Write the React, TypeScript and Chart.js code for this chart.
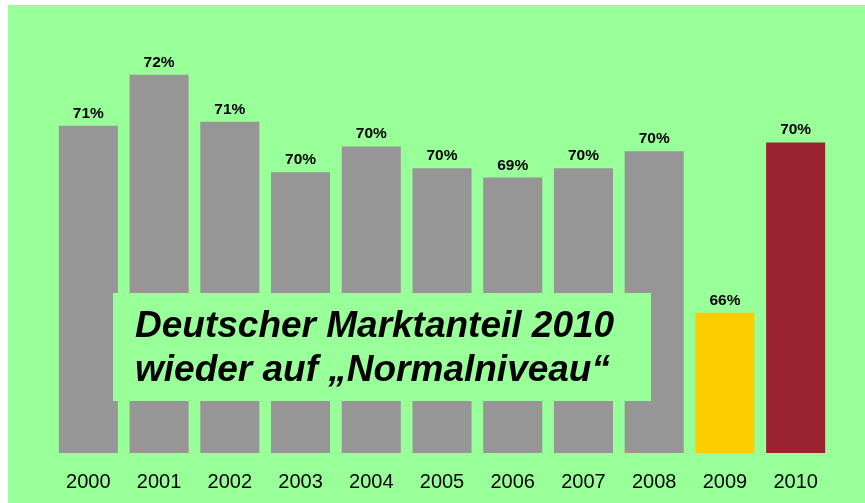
import React, { useEffect, useRef } from "react";
import { Chart, registerables } from "chart.js";

Chart.register(...registerables);

const years = ["2000", "2001", "2002", "2003", "2004", "2005", "2006", "2007", "2008", "2009", "2010"];
const shares = [70.72, 72.0, 70.82, 69.55, 70.2, 69.65, 69.42, 69.65, 70.08, 66.02, 70.3];
const barColors = [
  "#969696", "#969696", "#969696", "#969696", "#969696", "#969696",
  "#969696", "#969696", "#969696", "#FFCC00", "#9B2230",
];
const headlineLines = ["Deutscher Marktanteil 2010", "wieder auf \u201eNormalniveau\u201c"];

const BG = "#99FF99";

const valueLabels = {
  id: "valueLabels",
  afterDatasetsDraw(chart: any) {
    const ctx = chart.ctx;
    const meta = chart.getDatasetMeta(0);
    ctx.save();
    ctx.font = "bold 15.5px 'Liberation Sans', Arial, sans-serif";
    ctx.fillStyle = "#000";
    ctx.textAlign = "center";
    ctx.textBaseline = "alphabetic";
    meta.data.forEach((bar: any, i: number) => {
      ctx.fillText(Math.round(shares[i]) + "%", bar.x, bar.y - 8);
    });
    ctx.restore();
  },
};

const headline = {
  id: "headline",
  afterDraw(chart: any) {
    const ctx = chart.ctx;
    ctx.save();
    ctx.fillStyle = BG;
    ctx.fillRect(105, 288, 538, 108);
    ctx.fillStyle = "#000";
    ctx.font = "italic bold 37px 'Liberation Sans', Arial, sans-serif";
    ctx.textAlign = "left";
    ctx.textBaseline = "alphabetic";
    ctx.fillText(headlineLines[0], 127, 332);
    ctx.fillText(headlineLines[1], 127, 376);
    ctx.restore();
  },
};

export default function App() {
  const ref = useRef<HTMLCanvasElement | null>(null);
  useEffect(() => {
    if (!ref.current) return;
    const chart = new Chart(ref.current, {
      type: "bar",
      data: {
        labels: years,
        datasets: [
          {
            data: shares,
            backgroundColor: barColors,
            borderWidth: 0,
            categoryPercentage: 1,
            barPercentage: 0.835,
          },
        ],
      },
      options: {
        responsive: false,
        animation: false,
        layout: { padding: { left: 45, right: 34, top: 30, bottom: -8 } },
        plugins: { legend: { display: false }, tooltip: { enabled: false }, title: { display: false } },
        scales: {
          y: { display: false, min: 62.5, max: 73 },
          x: {
            grid: { display: false, drawTicks: false },
            border: { display: false },
            ticks: {
              color: "#000",
              padding: 17,
              font: { family: "'Liberation Sans', Arial, sans-serif", size: 20 },
            },
          },
        },
      },
      plugins: [valueLabels, headline],
    });
    return () => chart.destroy();
  }, []);
  return (
    <div style={{ position: "fixed", left: 8, top: 5, width: 857, height: 498, background: BG, overflow: "hidden" }}>
      <canvas ref={ref} width={857} height={498} style={{ display: "block" }} />
    </div>
  );
}
